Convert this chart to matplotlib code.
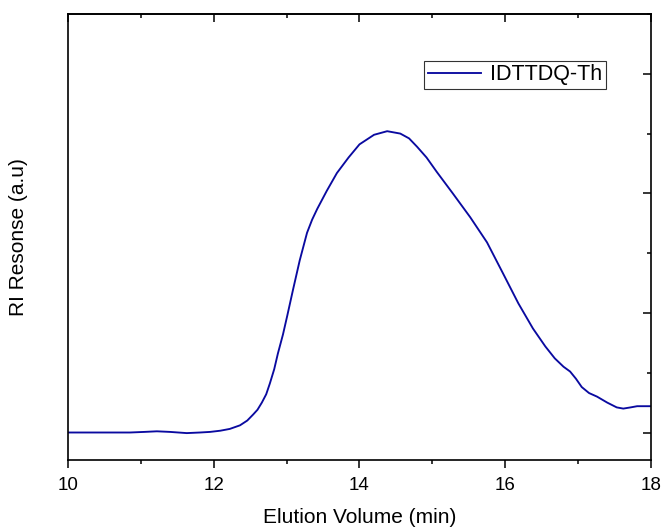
import matplotlib
matplotlib.use("Agg")
import matplotlib.pyplot as plt
from matplotlib.ticker import MultipleLocator, NullFormatter

plt.rcParams['font.family'] = ['Liberation Sans', 'DejaVu Sans']

# GPC trace
elution = [10.0, 10.44, 10.85, 11.05, 11.22, 11.40, 11.63, 11.81, 11.95, 12.09,
           12.22, 12.36, 12.46, 12.54, 12.60, 12.66, 12.72, 12.77, 12.83, 12.88,
           12.95, 13.01, 13.09, 13.18, 13.28, 13.35, 13.42, 13.55, 13.69, 13.85,
           14.00, 14.20, 14.38, 14.56, 14.68, 14.79, 14.92, 15.06, 15.28, 15.52,
           15.75, 15.97, 16.18, 16.38, 16.55, 16.68, 16.80, 16.89, 16.97, 17.05,
           17.15, 17.26, 17.40, 17.53, 17.62, 17.72, 17.81, 17.90, 18.0]
ri = [0.0, 0.0, 0.0, 0.005, 0.01, 0.005, -0.005, 0.0, 0.005, 0.015,
      0.03, 0.06, 0.10, 0.15, 0.19, 0.25, 0.32, 0.41, 0.53, 0.66,
      0.82, 0.98, 1.20, 1.44, 1.67, 1.78, 1.87, 2.02, 2.17, 2.30,
      2.41, 2.49, 2.52, 2.50, 2.46, 2.39, 2.30, 2.18, 2.00, 1.80,
      1.59, 1.33, 1.08, 0.87, 0.72, 0.62, 0.55, 0.51, 0.45, 0.38,
      0.33, 0.30, 0.25, 0.21, 0.20, 0.21, 0.22, 0.22, 0.22]
label = "IDTTDQ-Th"

fig = plt.figure(figsize=(6.64, 5.31), dpi=100)
ax = fig.add_axes([0.1024, 0.1337, 0.878, 0.8399])
ax.plot(elution, ri, color='#0A0AA0', lw=1.35, label=label,
        solid_joinstyle='round')

ax.set_xlim(10, 18)
ax.set_ylim(-0.23, 3.50)
ax.xaxis.set_major_locator(MultipleLocator(2))
ax.xaxis.set_minor_locator(MultipleLocator(1))
ax.yaxis.set_major_locator(MultipleLocator(1))
ax.yaxis.set_minor_locator(MultipleLocator(0.5))
ax.yaxis.set_major_formatter(NullFormatter())

for s in ax.spines.values():
    s.set_linewidth(1.2)

ax.tick_params(axis='x', which='major', direction='out', length=6, width=1.1,
               labelsize=13.5, top=False, pad=6)
ax.tick_params(axis='x', which='minor', direction='out', length=3, width=1.1, top=False)
ax.tick_params(axis='y', which='both', left=False, right=True, direction='in', width=1.1)
ax.tick_params(axis='y', which='major', length=6)
ax.tick_params(axis='y', which='minor', length=3)

# inward ticks along the top edge
top = ax.secondary_xaxis('top')
top.xaxis.set_major_locator(MultipleLocator(2))
top.xaxis.set_minor_locator(MultipleLocator(1))
top.tick_params(axis='x', which='major', direction='in', length=6, width=1.1, labeltop=False)
top.tick_params(axis='x', which='minor', direction='in', length=3, width=1.1)
top.spines['top'].set_linewidth(1.2)

ax.set_xlabel("Elution Volume (min)", fontsize=15, labelpad=10)
ax.set_ylabel("RI Resonse (a.u)", fontsize=15, labelpad=25)

leg = ax.legend(loc='upper right', bbox_to_anchor=(0.922, 0.895), fontsize=15.5,
                frameon=True, fancybox=False, handlelength=2.5, handletextpad=0.4,
                borderpad=0.16, borderaxespad=0)
leg.get_frame().set_edgecolor('black')
leg.get_frame().set_linewidth(0.8)

fig.savefig("out.png", dpi=100)
